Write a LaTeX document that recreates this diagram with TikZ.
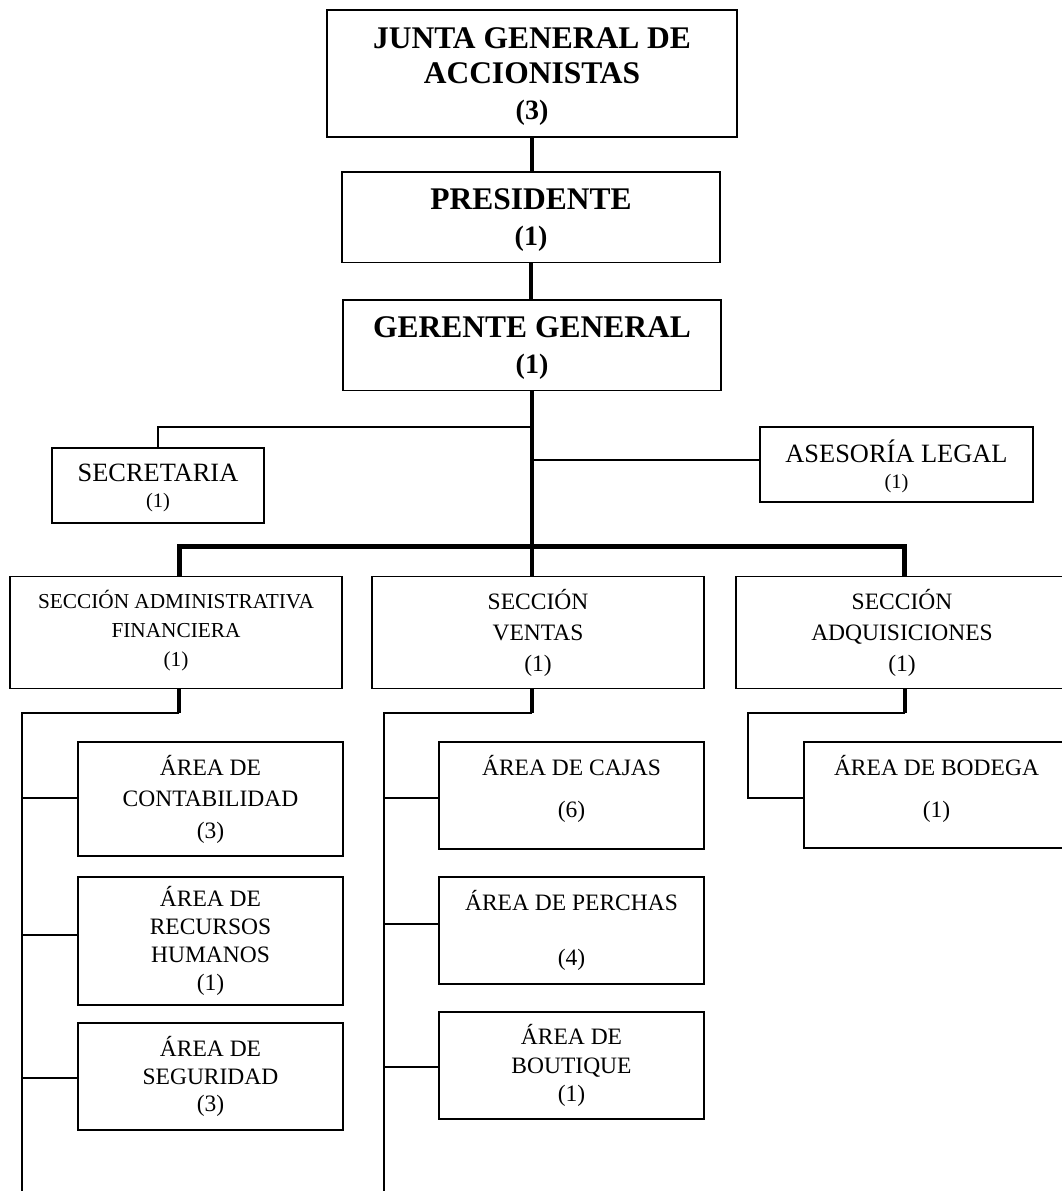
\documentclass[tikz,border=0pt]{standalone}
\usepackage{fontspec}
\setmainfont{Liberation Serif}
\begin{document}
\begin{tikzpicture}[x=1pt,y=-1pt,
  orgbox/.style={draw, line width=1.6pt, inner sep=0pt, align=center},
  topbox/.style={orgbox, font=\fontsize{31.5}{35.5}\selectfont\bfseries},
  sidebox/.style={orgbox, minimum width=#1, minimum height=75pt, font=\fontsize{26.4}{26}\selectfont},
  secbox/.style={orgbox, minimum width=332pt, minimum height=112pt},
  areabox/.style={orgbox, minimum width=265pt},
  link/.style={line width=1.7pt},
  mainlink/.style={line width=4pt},
  barlink/.style={line width=5pt},
  droplink/.style={line width=3.2pt}]
\useasboundingbox (0,0) rectangle (1062,1191);
\fill[white] (0,0) rectangle (1062,1191);
\clip (0,0) rectangle (1062,1191);

% top of the hierarchy
\node[topbox, minimum width=410pt, minimum height=127pt, text depth=-5pt] (junta) at (532,73.5)
  {JUNTA GENERAL DE\\ACCIONISTAS\\{\fontsize{28}{35}\selectfont (3)}};
\node[topbox, minimum width=378pt, minimum height=90.6pt, text depth=-6pt] (pres) at (531,217)
  {PRESIDENTE\\{\fontsize{28}{33}\selectfont (1)}};
\node[topbox, minimum width=378pt, minimum height=90.7pt, text depth=-8.5pt] (ger) at (532,345.3)
  {GERENTE GENERAL\\{\fontsize{28}{33}\selectfont (1)}};

% staff units
\node[sidebox=212pt, text depth=-2pt] (sec) at (158,485.5)
  {SECRETARIA\\{\fontsize{20.5}{27}\selectfont (1)}};
\node[sidebox=273pt, text depth=1pt] (ase) at (896.5,464.5)
  {ASESORÍA LEGAL\\{\fontsize{20.5}{26}\selectfont (1)}};

% sections
\node[secbox, font=\fontsize{21.3}{29}\selectfont, text depth=8pt] (adm) at (176,632.5)
  {SECCIÓN ADMINISTRATIVA\\FINANCIERA\\(1)};
\node[secbox, font=\fontsize{23.5}{31}\selectfont] (ven) at (538,632.5)
  {SECCIÓN\\VENTAS\\(1)};
\node[secbox, font=\fontsize{23.5}{31}\selectfont] (adq) at (902,632.5)
  {SECCIÓN\\ADQUISICIONES\\(1)};

% areas under the administrative section
\node[areabox, minimum height=114pt, font=\fontsize{23.5}{31.5}\selectfont] (cont) at (210.5,799)
  {ÁREA DE\\CONTABILIDAD\\(3)};
\node[areabox, minimum height=128pt, font=\fontsize{23.5}{28}\selectfont] (rrhh) at (210.5,941)
  {ÁREA DE\\RECURSOS\\HUMANOS\\(1)};
\node[areabox, minimum height=107pt, font=\fontsize{23.5}{27.5}\selectfont] (seg) at (210.5,1076.5)
  {ÁREA DE\\SEGURIDAD\\(3)};

% areas under sales
\node[areabox, minimum height=107pt, font=\fontsize{23.5}{42}\selectfont, text depth=18pt] (caj) at (571.5,795.5)
  {ÁREA DE CAJAS\\(6)};
\node[areabox, minimum height=107pt, font=\fontsize{23.5}{55}\selectfont] (per) at (571.5,930.5)
  {ÁREA DE PERCHAS\\(4)};
\node[areabox, minimum height=107pt, font=\fontsize{23.5}{28.5}\selectfont] (bou) at (571.5,1065.5)
  {ÁREA DE\\BOUTIQUE\\(1)};

% area under purchasing
\node[areabox, minimum height=106pt, font=\fontsize{23.5}{42}\selectfont, text depth=17pt] (bod) at (936.5,795)
  {ÁREA DE BODEGA\\(1)};

% main chain of command
\draw[mainlink] (junta.south) -- (junta.south |- pres.north);
\draw[mainlink] (pres.south) -- (pres.south |- ger.north);
\draw[mainlink] (ger.south) -- (ger.south |- ven.north);

% staff connectors
\coordinate (jsec) at (532,427);
\draw[link] (jsec) -| (sec.north);
\coordinate (jase) at (532,460);
\draw[link] (jase) -- (jase -| ase.west);

% bar to the three sections
\coordinate (dadm) at (179,546);
\coordinate (dadq) at (904,546);
\draw[barlink] (dadm |- adm.north) -- (dadm) -- (dadq) -- (dadq |- adq.north);

% administrative branch
\coordinate (hadm) at (179,713);
\coordinate (sadm) at (22,713);
\coordinate (eadm) at (22,1200);
\draw[droplink] (hadm |- adm.south) -- (hadm);
\draw[link] (hadm) -- (sadm) -- (eadm);
\coordinate (a1) at (22,798);
\coordinate (a2) at (22,935);
\coordinate (a3) at (22,1078);
\draw[link] (a1) -- (a1 -| cont.west);
\draw[link] (a2) -- (a2 -| rrhh.west);
\draw[link] (a3) -- (a3 -| seg.west);

% sales branch
\coordinate (hven) at (532,713);
\coordinate (sven) at (384,713);
\coordinate (even) at (384,1200);
\draw[droplink] (hven |- ven.south) -- (hven);
\draw[link] (hven) -- (sven) -- (even);
\coordinate (v1) at (384,798);
\coordinate (v2) at (384,924);
\coordinate (v3) at (384,1067);
\draw[link] (v1) -- (v1 -| caj.west);
\draw[link] (v2) -- (v2 -| per.west);
\draw[link] (v3) -- (v3 -| bou.west);

% purchasing branch
\coordinate (hadq) at (905,713);
\coordinate (sadq) at (748,713);
\coordinate (q1) at (748,798);
\draw[droplink] (hadq |- adq.south) -- (hadq);
\draw[link] (hadq) -- (sadq) -- (q1) -- (q1 -| bod.west);
\end{tikzpicture}
\end{document}
